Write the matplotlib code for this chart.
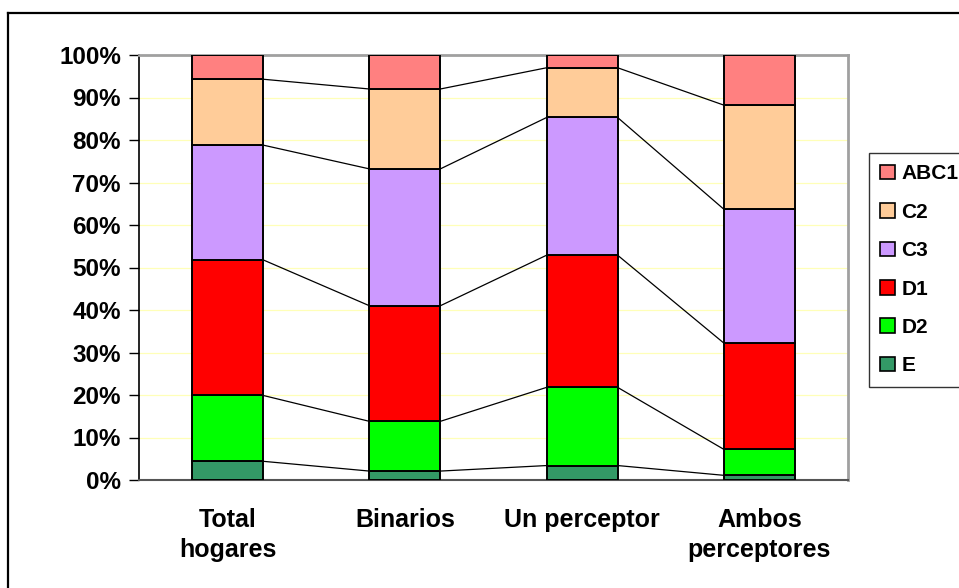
import matplotlib
matplotlib.use("Agg")
import matplotlib.pyplot as plt
from matplotlib.lines import Line2D
from matplotlib.patches import Patch
import numpy as np

plt.rcParams['font.family'] = ['Liberation Sans', 'DejaVu Sans']
plt.rcParams['font.weight'] = 'bold'

categories = ["Total\nhogares", "Binarios", "Un perceptor", "Ambos\nperceptores"]
series_names = ["E", "D2", "D1", "C3", "C2", "ABC1"]
E = [4.4, 2.1, 3.4, 1.1]
D2 = [15.5, 11.7, 18.4, 6.1]
D1 = [31.9, 27.2, 31.1, 25.0]
C3 = [27.0, 32.2, 32.4, 31.5]
C2 = [15.5, 18.8, 11.7, 24.5]
ABC1 = [5.7, 8.0, 3.0, 11.8]
colors = ["#339966", "#00FF00", "#FF0000", "#CC99FF", "#FFCC99", "#FF8080"]
ytick_labels = ["0%", "10%", "20%", "30%", "40%", "50%", "60%", "70%", "80%", "90%", "100%"]

data = [E, D2, D1, C3, C2, ABC1]

W, H = 959, 588
fig = plt.figure(figsize=(W / 100, H / 100), dpi=100)
ax = fig.add_axes([139 / W, (H - 480) / H, (848 - 139) / W, (480 - 55) / H])

x = np.arange(len(categories))
width = 0.4
arr = np.array(data, dtype=float)
totals = arr.sum(axis=0)
pct = arr / totals * 100
bottom = np.zeros(len(categories))
handles = []
for name, vals, c in zip(series_names, pct, colors):
    ax.bar(x, vals, width, bottom=bottom, color=c, edgecolor="black",
           linewidth=1.4, zorder=3)
    handles.append(Patch(facecolor=c, edgecolor="black", linewidth=1.2, label=name))
    bottom = bottom + vals
    if name != "ABC1":
        for i in range(len(categories) - 1):
            ax.plot([x[i] + width / 2, x[i + 1] - width / 2],
                    [bottom[i], bottom[i + 1]], color="black", lw=0.9, zorder=2)

ax.set_xlim(-0.5, len(categories) - 0.5)
ax.set_ylim(0, 100)
ax.set_yticks(np.arange(0, 101, 10))
ax.set_yticklabels(ytick_labels, fontsize=17.5, fontweight="bold")
ax.set_xticks(x)
ax.set_xticklabels(categories, fontsize=18, fontweight="bold", linespacing=1.35)
ax.tick_params(axis="x", length=0, pad=20)
ax.tick_params(axis="y", length=7, width=1, pad=6, direction="out")
ax.yaxis.grid(True, color="#FFFFB8", lw=0.9, zorder=0)
ax.set_axisbelow(True)
ax.spines["left"].set_color("black")
ax.spines["left"].set_linewidth(1.2)
ax.spines["bottom"].set_color("#555555")
ax.spines["bottom"].set_linewidth(1.5)
for s in ("top", "right"):
    ax.spines[s].set_color("#A0A0A0")
    ax.spines[s].set_linewidth(2)

leg = fig.legend(handles=handles[::-1], loc="upper left",
                 bbox_to_anchor=(869 / W, 1 - 153 / H),
                 prop={"size": 15, "weight": "bold"}, frameon=True,
                 fancybox=False, edgecolor="black", handlelength=0.7,
                 handleheight=0.7, handletextpad=0.3, labelspacing=0.93,
                 borderpad=0.55, borderaxespad=0)
leg.get_frame().set_linewidth(1.0)

# outer chart frame (cut off on right and bottom)
fig.add_artist(Line2D([7.5 / W, 7.5 / W], [0, 1 - 13 / H], transform=fig.transFigure,
                      color="black", lw=1.6))
fig.add_artist(Line2D([7.5 / W, 1.0], [1 - 13 / H, 1 - 13 / H], transform=fig.transFigure,
                      color="black", lw=1.6))

fig.savefig("out.png", dpi=100)
